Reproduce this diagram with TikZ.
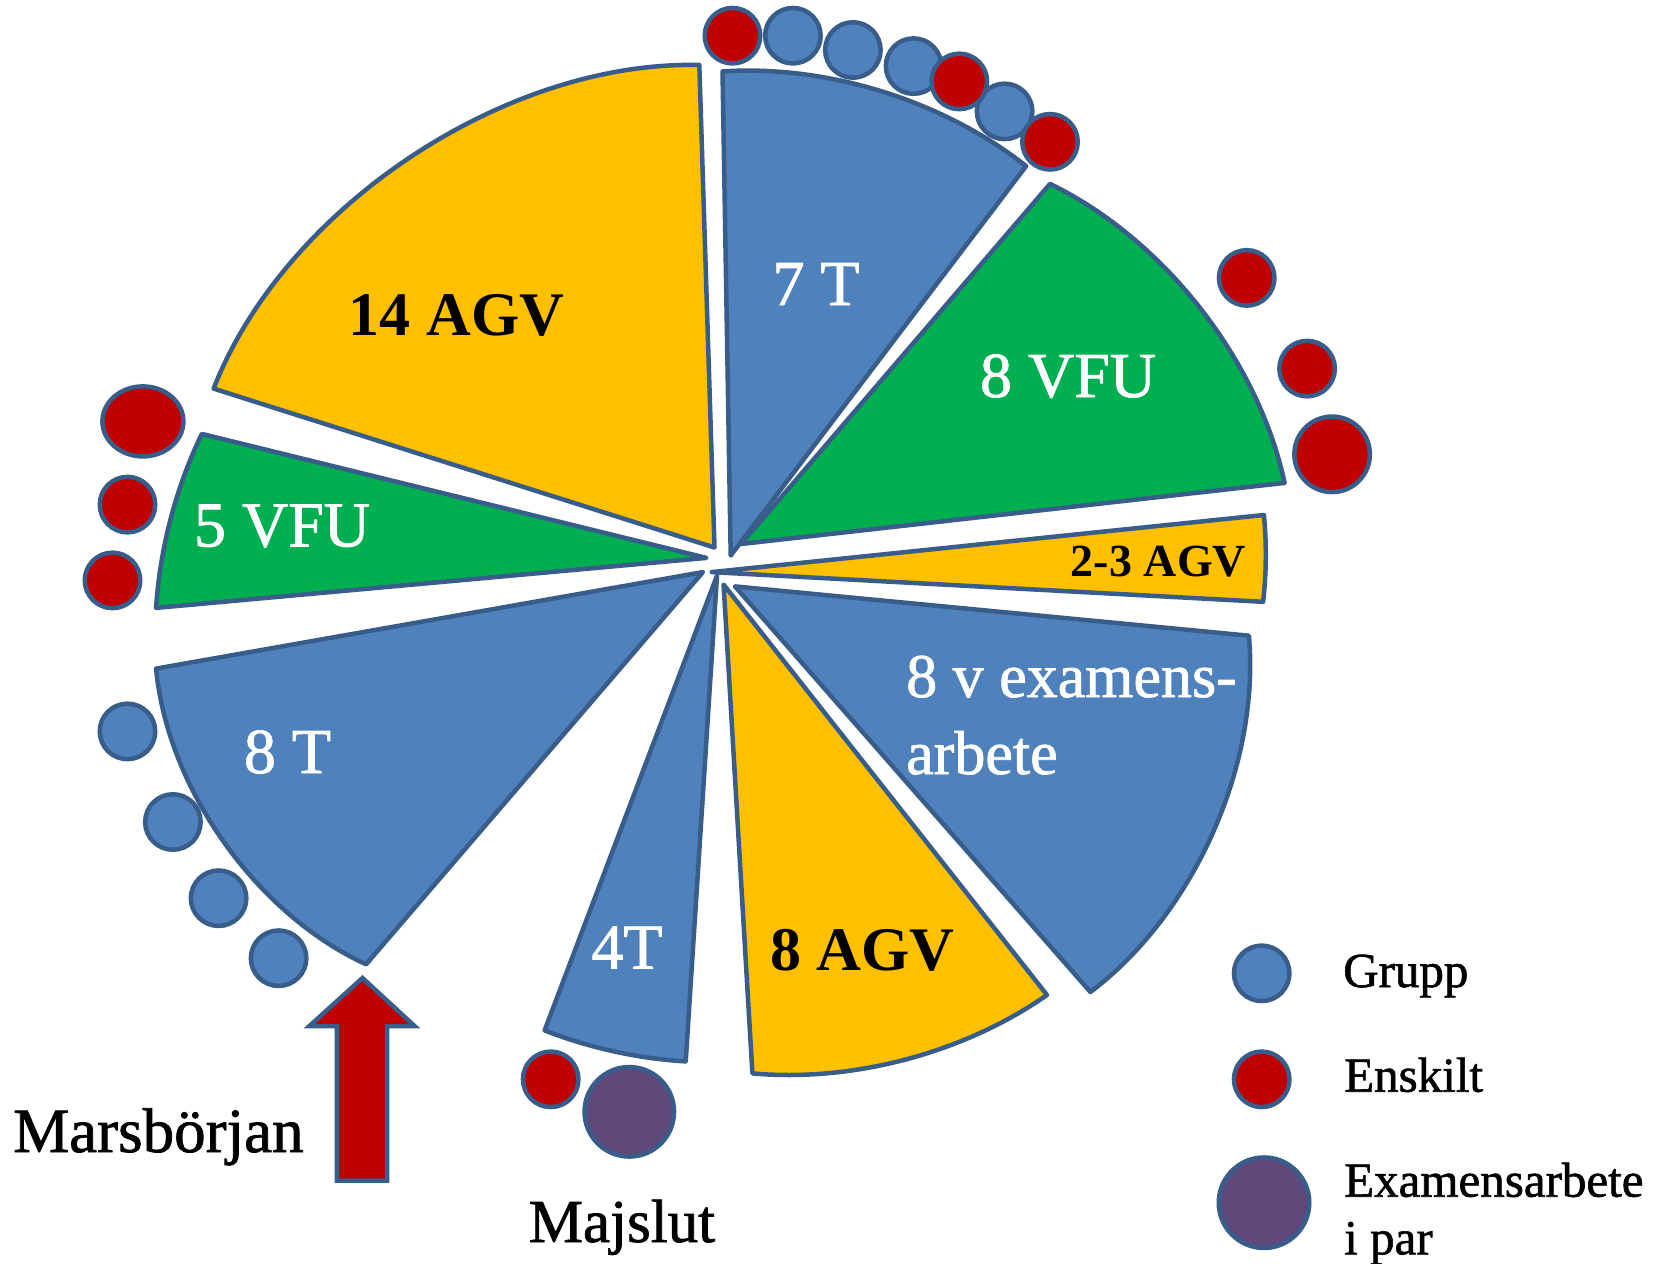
\documentclass[tikz,border=0pt]{standalone}
\usepackage{fontspec}
\setmainfont{Liberation Serif}
\newfontfamily\heavyserif{Liberation Serif}[FakeBold=1.2]
\usetikzlibrary{shapes.geometric}
\definecolor{edgeblue}{RGB}{56,93,138}
\definecolor{blueA}{RGB}{79,129,189}
\definecolor{yellowA}{RGB}{255,192,0}
\definecolor{greenA}{RGB}{0,176,80}
\definecolor{redA}{RGB}{192,0,0}
\definecolor{purpleA}{RGB}{95,73,122}
\tikzset{
  wedgeline/.style={draw=edgeblue, line width=4.5pt, line join=round, looseness=0.85},
  dot/.style={circle, draw=edgeblue, line width=4.5pt, inner sep=0pt, minimum size=55.5pt},
  grp/.style={dot, fill=blueA},
  ens/.style={dot, fill=redA},
  bigens/.style={dot, fill=redA, minimum size=75.5pt},
  par/.style={dot, fill=purpleA, minimum size=89.5pt},
  wlab/.style={text=white, inner sep=0pt, anchor=base, font=\heavyserif\fontsize{64}{70}\selectfont},
  blab/.style={text=black, inner sep=0pt, anchor=base, font=\fontsize{62}{70}\selectfont\bfseries},
  leglab/.style={text=black, inner sep=0pt, anchor=base west, font=\heavyserif\fontsize{49}{58}\selectfont},
  biglab/.style={text=black, inner sep=0pt, anchor=base west, font=\heavyserif\fontsize{63}{70}\selectfont},
}
\begin{document}
\begin{tikzpicture}[x=1pt, y=1pt]
\useasboundingbox (0,0) rectangle (1656,-1263);
\fill[white] (0,0) rectangle (1656,-1263);

% ---- wedge coordinates (apex, first corner, second corner; counter-clockwise) ----
\coordinate (agvA)  at (714.5,-547.5);  \coordinate (agvB)  at (699.3,-65);    \coordinate (agvC)  at (213.6,-388.6);
\coordinate (vfvA)  at (706.4,-557.9);  \coordinate (vfvB)  at (201.8,-433.9); \coordinate (vfvC)  at (156.1,-607.9);
\coordinate (vfeA)  at (741,-544);      \coordinate (vfeB)  at (1284.6,-482.9);\coordinate (vfeC)  at (1050,-183.9);
\coordinate (tsA)   at (730.7,-555.5);  \coordinate (tsB)   at (1026.1,-166.1);\coordinate (tsC)   at (722.5,-71.4);
\coordinate (agtA)  at (711.8,-572.1);  \coordinate (agtB)  at (1263.1,-601.8);\coordinate (agtC)  at (1263.9,-515);
\coordinate (exA)   at (735,-586.4);    \coordinate (exB)   at (1090.4,-992);  \coordinate (exC)   at (1248.9,-635.7);
\coordinate (ageA)  at (723.6,-584.6);  \coordinate (ageB)  at (752.4,-1073.4);\coordinate (ageC)  at (1047,-995);
\coordinate (tfA)   at (717,-575.7);    \coordinate (tfB)   at (544.6,-1030.4);\coordinate (tfC)   at (685.7,-1061.4);
\coordinate (teA)   at (702.9,-572.1);  \coordinate (teB)   at (156.1,-668.6); \coordinate (teC)   at (366.1,-964.3);

% ---- wedges ----
\draw[wedgeline, fill=yellowA] (agvA) -- (agvB) to[bend right=35] (agvC) -- cycle;
\draw[wedgeline, fill=greenA]  (vfvA) -- (vfvB) to[bend right=11] (vfvC) -- cycle;
\draw[wedgeline, fill=greenA]  (vfeA) -- (vfeB) to[bend right=26] (vfeC) -- cycle;
\draw[wedgeline, fill=blueA]   (tsA)  -- (tsB)  to[bend right=21] (tsC)  -- cycle;
\draw[wedgeline, fill=yellowA] (agtA) -- (agtB) to[bend right=6]  (agtC) -- cycle;
\draw[wedgeline, fill=blueA]   (exA)  -- (exB)  to[bend right=29] (exC)  -- cycle;
\draw[wedgeline, fill=yellowA] (ageA) -- (ageB) to[bend right=20] (ageC) -- cycle;
\draw[wedgeline, fill=blueA]   (tfA)  -- (tfB)  to[bend right=9]  (tfC)  -- cycle;
\draw[wedgeline, fill=blueA]   (teA)  -- (teB)  to[bend right=30] (teC)  -- cycle;

% ---- wedge labels ----
\node[blab] (l14) at (456.5,-335) {14 AGV};
\node[wlab] (l7t) at (816,-305) {7 T};
\node[wlab] (l8vfu) at (1068,-397) {8 VFU};
\node[wlab] (l5vfu) at (282,-546.4) {5 VFU};
\node[wlab] (l8t) at (287.5,-773) {8 T};
\node[wlab] (l4t) at (627,-968.6) {4T};
\node[blab] (l8agv) at (862.6,-970.4) {8 AGV};
\node[blab, font=\fontsize{46}{52}\selectfont\bfseries] (l23) at (1158.5,-576.8) {2-3 AGV};
\node[wlab, anchor=base west, font=\heavyserif\fontsize{62}{70}\selectfont] (lex1) at (906,-697) {8 v examens-};
\node[wlab, anchor=base west, font=\heavyserif\fontsize{62}{70}\selectfont] (lex2) at (906,-774) {arbete};

% ---- top dots (group first, then individual) ----
\node[grp] (t2) at (792.9,-35.7) {};
\node[grp] (t3) at (852.9,-50) {};
\node[grp] (t4) at (913.6,-66.1) {};
\node[grp] (t6) at (1004.6,-111.4) {};
\node[ens] (t1) at (732.5,-35.7) {};
\node[ens] (t5) at (959.3,-81.4) {};
\node[ens] (t7) at (1050,-141.8) {};

% ---- right dots ----
\node[ens] (r1) at (1246.7,-277.9) {};
\node[ens] (r2) at (1307.1,-368.6) {};
\node[bigens] (r3) at (1332.1,-454.3) {};

% ---- left dots ----
\node[ellipse, draw=edgeblue, line width=4.5pt, fill=redA, inner sep=0pt, minimum width=81pt, minimum height=70pt] (e1) at (142.9,-421.4) {};
\node[ens] (e2) at (127.5,-504.6) {};
\node[ens] (e3) at (112.5,-580.4) {};
\node[grp] (g1) at (127.5,-731.4) {};
\node[grp] (g2) at (172.9,-822) {};
\node[grp] (g3) at (218.6,-898.2) {};
\node[grp] (g4) at (278.6,-958.2) {};

% ---- bottom dots ----
\node[ens] (b1) at (550.7,-1079.3) {};
\node[par] (b2) at (629.3,-1111.8) {};

% ---- arrow ----
\draw[draw=edgeblue, line width=4.5pt, fill=redA, line join=miter]
  (362.5,-978) -- (414.5,-1026) -- (387.2,-1026) -- (387.2,-1180.7)
  -- (336.8,-1180.7) -- (336.8,-1026) -- (309.5,-1026) -- cycle;

\node[biglab] (mars) at (13,-1152) {Marsbörjan};
\node[biglab, font=\heavyserif\fontsize{61}{70}\selectfont] (maj) at (528.6,-1242) {Majslut};

% ---- legend ----
\node[grp] (kg) at (1261.7,-973.3) {};
\node[ens] (ke) at (1261.7,-1079.3) {};
\node[par, minimum size=90.5pt] (kp) at (1264,-1202.7) {};
\node[leglab] (kgt) at (1343,-987) {Grupp};
\node[leglab] (ket) at (1344,-1091.7) {Enskilt};
\node[leglab] (kpt) at (1344,-1196.7) {Examensarbete};
\node[leglab] (kpt2) at (1344,-1254.3) {i par};
\end{tikzpicture}
\end{document}
